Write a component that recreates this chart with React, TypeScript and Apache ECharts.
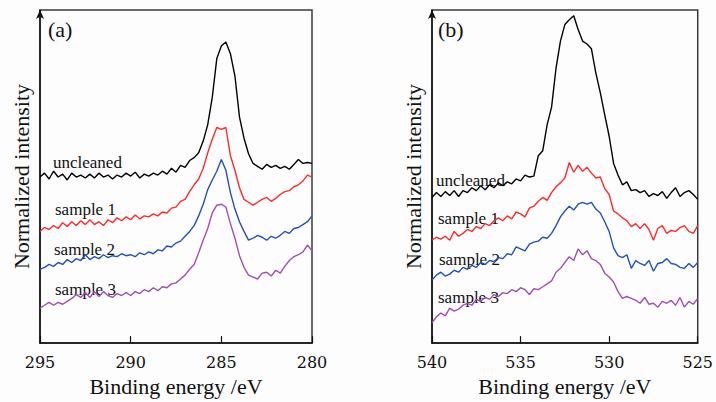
import React, { useEffect, useRef } from "react";
import * as echarts from "echarts";

// Binding energy grids (0.25 eV steps)
const leftStart = 295;
const rightStart = 540;
const step = 0.25;

// Panel (a): C 1s region, intensities (arbitrary units)
const aUncleaned = [171,175,169,177,171,174,168,175,171,173,170,174,170,175,171,173,169,173,171,175,172,176,170,174,172,175,173,177,174,180,176,183,181,188,191,196,208,225,253,293,306,310,298,275,233,211,195,185,182,179,184,181,183,180,182,179,184,189,185,186,185];
const aSample1 = [115,119,117,121,118,124,120,125,121,126,122,127,122,125,121,127,124,129,126,130,127,132,128,131,130,133,131,135,134,139,140,146,148,156,163,169,180,196,210,222,220,222,193,178,160,148,145,142,145,148,150,146,149,153,156,157,161,163,167,173,171];
const aSample2 = [76,78,81,79,83,81,86,83,87,85,91,86,89,87,91,88,90,89,92,90,91,89,93,91,94,92,96,95,100,99,103,105,110,115,121,131,143,158,168,177,189,178,155,138,125,115,106,108,111,109,106,110,108,111,115,113,118,119,122,125,131];
const aSample3 = [36,39,42,39,42,40,43,46,50,47,52,47,53,48,53,49,47,51,49,52,49,53,51,55,53,57,54,58,57,61,62,66,70,76,81,93,106,118,134,142,143,140,123,108,90,78,70,68,66,72,73,69,75,72,79,85,89,91,94,101,95];

// Panel (b): O 1s region
const bUncleaned = [150,155,151,156,152,157,151,157,155,160,157,162,158,163,160,165,162,166,164,169,167,173,171,172,193,198,225,243,283,311,328,333,337,323,311,308,303,278,258,235,213,185,173,163,166,157,158,155,157,151,154,152,156,149,155,160,151,155,157,153,148];
const bSample1 = [106,109,107,110,106,115,110,113,117,115,120,118,123,121,126,129,126,131,128,135,133,130,139,141,146,150,147,155,161,165,170,186,176,183,177,181,175,170,171,159,153,136,133,129,126,120,123,118,123,117,106,118,121,113,116,115,119,121,115,113,121];
const bSample2 = [65,70,73,69,71,75,73,78,76,80,78,83,81,85,84,88,87,92,91,99,97,95,102,104,105,109,108,113,121,130,136,141,137,143,145,143,145,138,134,125,115,98,90,88,91,77,85,82,80,85,74,82,83,87,82,81,78,77,82,78,83];
const bSample3 = [21,27,31,28,36,33,35,39,41,39,45,43,47,45,50,48,52,51,55,53,57,55,50,56,55,58,61,64,73,77,83,89,85,97,91,95,87,85,81,72,68,63,53,46,48,46,44,41,47,40,41,37,43,41,44,39,47,37,43,40,46];

const seriesNames = ["uncleaned", "sample 1", "sample 2", "sample 3"];
const seriesColors = ["#000000", "#ff2b2b", "#2351b3", "#a24db3"];
const xTicksA = [295, 290, 285, 280];
const xTicksB = [540, 535, 530, 525];

const toPairs = (start: number, vals: number[]) =>
  vals.map((v, i) => [start - i * step, v]);

export default function App() {
  const ref = useRef<HTMLDivElement>(null);
  useEffect(() => {
    document.body.style.margin = "0";
    if (!ref.current) return;
    const chart = echarts.init(ref.current, null, { renderer: "svg" });
    const serif = "Liberation Serif";
    const tickFont = "DejaVu Serif";

    const mkX = (gi: number, ticks: number[]) => ({
      type: "value",
      gridIndex: gi,
      min: Math.min(...ticks),
      max: Math.max(...ticks),
      interval: 5,
      inverse: true,
      name: "Binding energy /eV",
      nameLocation: "middle",
      nameGap: 40,
      nameTextStyle: { fontFamily: serif, fontSize: 22, color: "#111", verticalAlign: "middle" },
      axisLine: { show: true, onZero: false, lineStyle: { color: "#111", width: 1.5 } },
      axisTick: { show: true, inside: true, length: 7, lineStyle: { color: "#111", width: 1.2 } },
      axisLabel: { fontFamily: tickFont, fontSize: 16, color: "#111", margin: 19, verticalAlign: "middle" },
      splitLine: { show: false },
    });
    const mkY = (gi: number) => ({
      type: "value",
      gridIndex: gi,
      min: 0,
      max: 343,
      name: "Normalized intensity",
      nameLocation: "middle",
      nameGap: 8,
      nameTextStyle: { fontFamily: serif, fontSize: 22, color: "#111" },
      axisLine: {
        show: true,
        onZero: false,
        symbol: ["none", "arrow"],
        symbolSize: [6, 9],
        lineStyle: { color: "#111", width: 1.5 },
      },
      axisTick: { show: false },
      axisLabel: { show: false },
      splitLine: { show: false },
    });

    const dataA = [aUncleaned, aSample1, aSample2, aSample3];
    const dataB = [bUncleaned, bSample1, bSample2, bSample3];
    const series: any[] = [];
    dataA.forEach((d, k) =>
      series.push({
        type: "line",
        name: seriesNames[k],
        xAxisIndex: 0,
        yAxisIndex: 0,
        data: toPairs(leftStart, d),
        showSymbol: false,
        lineStyle: { color: seriesColors[k], width: 1.4 },
        itemStyle: { color: seriesColors[k] },
      })
    );
    dataB.forEach((d, k) =>
      series.push({
        type: "line",
        name: seriesNames[k],
        xAxisIndex: 1,
        yAxisIndex: 1,
        data: toPairs(rightStart, d),
        showSymbol: false,
        lineStyle: { color: seriesColors[k], width: 1.4 },
        itemStyle: { color: seriesColors[k] },
      })
    );

    const labelA = [
      { x: 53, y: 162 },
      { x: 55, y: 209 },
      { x: 54, y: 249 },
      { x: 55, y: 289 },
    ];
    const labelB = [
      { x: 436, y: 180 },
      { x: 438, y: 218 },
      { x: 439, y: 259 },
      { x: 438, y: 297 },
    ];
    const graphics: any[] = [];
    const txt = (x: number, y: number, text: string, size: number) => ({
      type: "text",
      x,
      y,
      style: { text, fontFamily: serif, fontSize: size, fill: "#111", verticalAlign: "middle" },
    });
    labelA.forEach((p, k) => graphics.push(txt(p.x, p.y, seriesNames[k], 17)));
    labelB.forEach((p, k) => graphics.push(txt(p.x, p.y, seriesNames[k], 17)));
    graphics.push(txt(48, 29, "(a)", 22));
    graphics.push(txt(438, 29, "(b)", 22));

    chart.setOption({
      animation: false,
      backgroundColor: "#fdfdfd",
      textStyle: { fontFamily: serif },
      grid: [
        { left: 40, top: 10, width: 272, height: 343, show: true, borderColor: "#3a3a3a", borderWidth: 1.5, backgroundColor: "transparent" },
        { left: 432, top: 10, width: 272, height: 343, show: true, borderColor: "#3a3a3a", borderWidth: 1.5, backgroundColor: "transparent" },
      ],
      xAxis: [mkX(0, xTicksA), mkX(1, xTicksB)],
      yAxis: [mkY(0), mkY(1)],
      series,
      graphic: graphics,
    });
    return () => chart.dispose();
  }, []);
  return <div ref={ref} style={{ width: 716, height: 402 }} />;
}
